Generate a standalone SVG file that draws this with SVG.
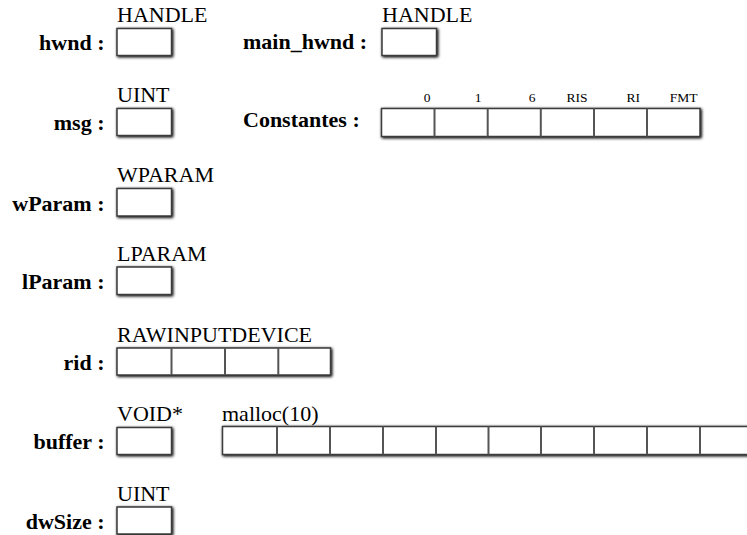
<svg xmlns="http://www.w3.org/2000/svg" width="747" height="535" viewBox="0 0 747 535">
<defs>
<filter id="sh" x="-20%" y="-40%" width="140%" height="180%">
<feGaussianBlur in="SourceAlpha" stdDeviation="1.4" result="b"/>
<feOffset in="b" dx="0.7" dy="0.9" result="o"/>
<feComponentTransfer in="o" result="s"><feFuncA type="linear" slope="1.1"/></feComponentTransfer>
<feMerge><feMergeNode in="s"/><feMergeNode in="SourceGraphic"/></feMerge>
</filter>
</defs>
<style>
text{font-family:'Liberation Serif','DejaVu Serif',serif;fill:#000}
.lbl{font-weight:bold;font-size:22px}
.typ{font-size:22px}
.hdr{font-size:13.5px;text-anchor:end}
.box{fill:#fff;stroke:#3a3a3a;stroke-width:1.5;filter:url(#sh)}
.div{stroke:#555;stroke-width:2}
.r{text-anchor:end}
</style>
<rect width="747" height="535" fill="#fff"/>

<g id="hwnd">
<text class="typ" x="117" y="21.5" font-family="Liberation Serif">HANDLE</text>
<text class="lbl r" x="104.5" y="50" font-family="Liberation Serif">hwnd :</text>
<rect class="box" x="117" y="28.5" width="54.5" height="27"/>
</g>

<g id="main_hwnd">
<text class="typ" x="382" y="21.5">HANDLE</text>
<text class="lbl" x="243" y="48.5">main_hwnd :</text>
<rect class="box" x="382" y="28.5" width="54.5" height="27"/>
</g>

<g id="msg">
<text class="typ" x="117" y="101.5">UINT</text>
<text class="lbl r" x="104.5" y="130">msg :</text>
<rect class="box" x="117" y="108.5" width="54.5" height="27"/>
</g>

<g id="constantes">
<text class="lbl" x="243" y="127">Constantes :</text>
<text class="hdr" x="430.5" y="102">0</text>
<text class="hdr" x="481.5" y="102">1</text>
<text class="hdr" x="535.5" y="102">6</text>
<text class="hdr" x="587.5" y="102">RIS</text>
<text class="hdr" x="640" y="102">RI</text>
<text class="hdr" x="697.5" y="102">FMT</text>
<rect class="box" x="381.5" y="108.5" width="318.5" height="28"/>
<path class="div" d="M434.5 108.5V136.5M487.7 108.5V136.5M540.8 108.5V136.5M594 108.5V136.5M647 108.5V136.5"/>
</g>

<g id="wParam">
<text class="typ" x="117" y="181.5">WPARAM</text>
<text class="lbl r" x="104.5" y="210.5">wParam :</text>
<rect class="box" x="117" y="188.5" width="54.5" height="27.5"/>
</g>

<g id="lParam">
<text class="typ" x="117" y="260.5">LPARAM</text>
<text class="lbl r" x="104.5" y="288.5">lParam :</text>
<rect class="box" x="117" y="267" width="54.5" height="27.5"/>
</g>

<g id="rid">
<text class="typ" x="117" y="341.5">RAWINPUTDEVICE</text>
<text class="lbl r" x="104.5" y="369.5">rid :</text>
<rect class="box" x="117" y="348" width="213.5" height="27"/>
<path class="div" d="M171.5 348V375M225 348V375M278.3 348V375"/>
</g>

<g id="buffer">
<text class="typ" x="117" y="420.5">VOID*</text>
<text class="lbl r" x="104.5" y="449">buffer :</text>
<rect class="box" x="117" y="427.5" width="54.5" height="27"/>
</g>

<g id="malloc">
<text class="typ" x="222" y="420.5">malloc(10)</text>
<rect class="box" x="222.5" y="426.5" width="531" height="28"/>
<path class="div" d="M277 426.5V454.5M330 426.5V454.5M383 426.5V454.5M436 426.5V454.5M488.5 426.5V454.5M541 426.5V454.5M594 426.5V454.5M647 426.5V454.5M700 426.5V454.5"/>
</g>

<g id="dwSize">
<text class="typ" x="117" y="500.5">UINT</text>
<text class="lbl r" x="104.5" y="529">dwSize :</text>
<rect class="box" x="117" y="507" width="54.5" height="27"/>
</g>

<g id="connectors"></g>
</svg>
